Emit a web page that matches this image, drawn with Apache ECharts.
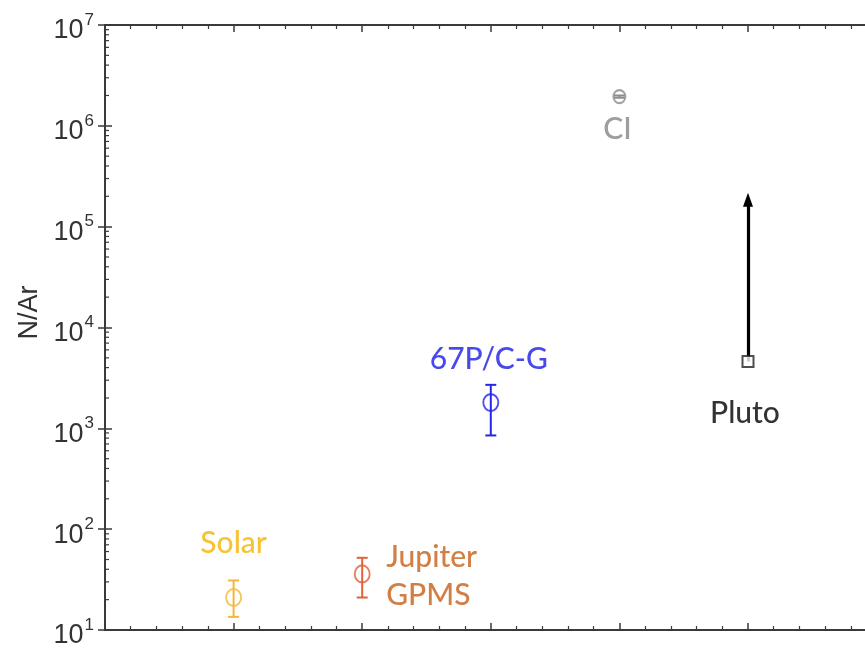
<!DOCTYPE html>
<html>
<head>
<meta charset="utf-8">
<title>N/Ar ratios</title>
<script src="https://cdn.jsdelivr.net/npm/echarts@6/dist/echarts.min.js"></script>
<style>
  html, body { margin: 0; padding: 0; background: #fff; overflow: hidden; }
  #chart { width: 900px; height: 652px; }
</style>
</head>
<body>
<div id="chart"></div>
<script>
// Reservoirs and their N/Ar ratios (log scale)
const names     = ['Solar', 'Jupiter\nGPMS', '67P/C-G', 'CI', 'Pluto'];
const xSlots    = [1, 2, 3, 4, 5];
const ratio     = [21, 36, 1800, 1.95e6, 4600];
const ratioLow  = [13.5, 21, 850, 1.9e6, null];
const ratioHigh = [31, 52, 2700, 2.0e6, null];
const plutoUpTo = 1.85e5;   // Pluto value is a lower limit, arrow points up to here

const markerColors = ['#F4B63A', '#E0633A', '#2626EA', '#8C8C8C', '#222222'];
const labelColors  = ['#F4B400', '#C55F17', '#1A1AE6', '#858585', '#000000'];

const yMin = 10, yMax = 1e7;
const axisColor = '#3a3a3a';
const tickFont = 'Liberation Sans, Arial, sans-serif';
const labelFont = 'Lato, "Open Sans", sans-serif';

// log-spaced minor ticks (2..9 × 10^k) on the left axis
const minorVals = [];
for (let e = Math.log10(yMin); e < Math.log10(yMax); e++) {
  for (let m = 2; m <= 9; m++) minorVals.push(m * Math.pow(10, e));
}

const chart = echarts.init(document.getElementById('chart'), null, { renderer: 'canvas' });

const errData = [];
const markData = [];
const squareData = [];
names.forEach((n, i) => {
  if (ratioLow[i] != null) {
    errData.push({ value: [xSlots[i], ratioLow[i], ratioHigh[i]], color: markerColors[i] });
  }
});

const labelOffsets = [[0, -54], [24, 2], [-2, -43], [-2, 33], [-3, 52]];
const labelAligns  = ['center', 'left', 'center', 'center', 'center'];
const labelSizes   = [30, 30, 30, 30, 30];

names.forEach((n, i) => {
  const item = {
    name: n,
    value: [xSlots[i], ratio[i]],
    symbolSize: i === 3 ? [12, 13] : [15, 17],
    itemStyle: { color: 'rgba(0,0,0,0)', borderColor: markerColors[i], borderWidth: 2 },
    label: {
      show: true,
      formatter: n,
      position: 'inside',
      offset: labelOffsets[i],
      align: labelAligns[i],
      verticalAlign: 'middle',
      color: labelColors[i],
      fontFamily: labelFont,
      fontWeight: 500,
      fontSize: labelSizes[i],
      lineHeight: 38
    }
  };
  if (i === 4) {
    item.symbol = 'rect';
    item.symbolSize = [11, 11];
    item.itemStyle = { color: '#ffffff', borderColor: markerColors[i], borderWidth: 2 };
    squareData.push(item);
  } else {
    item.symbol = 'circle';
    markData.push(item);
  }
});

const option = {
  animation: false,
  backgroundColor: '#ffffff',
  grid: { left: 105, top: 25, bottom: 22, width: 771.6, containLabel: false },
  xAxis: [
    {
      type: 'value', min: 0, max: 6, interval: 1, position: 'bottom',
      axisLine: { show: true, lineStyle: { color: axisColor, width: 2 } },
      axisTick: { show: true, inside: true, length: 7, lineStyle: { color: axisColor, width: 1.5 } },
      minorTick: { show: true, splitNumber: 5, length: 4, lineStyle: { color: axisColor, width: 1.2 } },
      axisLabel: { show: false },
      splitLine: { show: false }
    },
    {
      type: 'value', min: 0, max: 6, interval: 1, position: 'top',
      axisLine: { show: true, onZero: false, lineStyle: { color: axisColor, width: 2 } },
      axisTick: { show: true, inside: true, length: 7, lineStyle: { color: axisColor, width: 1.5 } },
      minorTick: { show: true, splitNumber: 5, length: 4, lineStyle: { color: axisColor, width: 1.2 } },
      axisLabel: { show: false },
      splitLine: { show: false }
    }
  ],
  yAxis: [
    {
      type: 'log', logBase: 10, min: yMin, max: yMax, interval: 1,
      name: 'N/Ar', nameLocation: 'middle', nameGap: 62,
      nameTextStyle: { fontFamily: tickFont, fontSize: 27, color: '#333333', padding: [0, 0, 0, 30] },
      axisLine: { show: true, lineStyle: { color: axisColor, width: 2 } },
      axisTick: { show: true, inside: true, length: 7, lineStyle: { color: axisColor, width: 1.5 } },
      splitLine: { show: false },
      axisLabel: {
        margin: 11,
        formatter: v => '{b|10}{s|' + Math.round(Math.log10(v)) + '}',
        rich: {
          b: { fontFamily: tickFont, fontSize: 27, color: '#333333', padding: [12, 0, 0, 0] },
          s: { fontFamily: tickFont, fontSize: 17, color: '#333333', padding: [0, 0, 10, 1] }
        }
      }
    },
    {
      type: 'log', logBase: 10, min: yMin, max: yMax, interval: 1, position: 'right',
      axisLine: { show: true, lineStyle: { color: axisColor, width: 2 } },
      axisTick: { show: true, inside: true, length: 7, lineStyle: { color: axisColor, width: 1.5 } },
      axisLabel: { show: false },
      splitLine: { show: false }
    }
  ],
  series: [
    {
      // minor ticks of the log axis
      type: 'custom',
      silent: true,
      data: minorVals.map(v => [0, v]),
      renderItem: (params, api) => {
        const p = api.coord([api.value(0), api.value(1)]);
        return {
          type: 'line',
          shape: { x1: p[0], y1: p[1], x2: p[0] + 4, y2: p[1] },
          style: { stroke: axisColor, lineWidth: 1.2 }
        };
      }
    },
    {
      // error bars
      type: 'custom',
      silent: true,
      z: 3,
      data: errData,
      renderItem: (params, api) => {
        const d = errData[params.dataIndex];
        const x = api.value(0);
        const top = api.coord([x, api.value(2)]);
        const bot = api.coord([x, api.value(1)]);
        const cap = 5.5;
        const st = { stroke: d.color, lineWidth: 2 };
        return {
          type: 'group',
          children: [
            { type: 'line', shape: { x1: top[0], y1: top[1], x2: bot[0], y2: bot[1] }, style: st },
            { type: 'line', shape: { x1: top[0] - cap, y1: top[1], x2: top[0] + cap, y2: top[1] }, style: st },
            { type: 'line', shape: { x1: bot[0] - cap, y1: bot[1], x2: bot[0] + cap, y2: bot[1] }, style: st }
          ]
        };
      }
    },
    {
      type: 'scatter',
      z: 4,
      data: markData
    },
    {
      // Pluto lower limit
      type: 'scatter',
      z: 6,
      data: squareData,
      markLine: {
        silent: true,
        symbol: ['none', 'triangle'],
        symbolSize: [10, 14],
        label: { show: false },
        lineStyle: { color: '#000000', width: 3.2, type: 'solid' },
        data: [[
          { coord: [xSlots[4], ratio[4]] },
          { coord: [xSlots[4], plutoUpTo] }
        ]]
      }
    }
  ]
};

chart.setOption(option);
</script>
</body>
</html>
